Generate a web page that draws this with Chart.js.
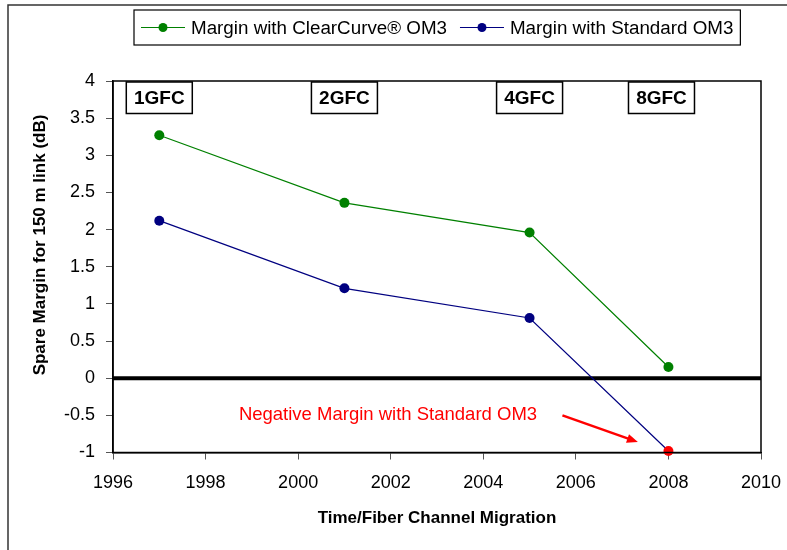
<!DOCTYPE html>
<html>
<head>
<meta charset="utf-8">
<script src="https://cdn.jsdelivr.net/npm/chart.js@4.4.0/dist/chart.umd.min.js"></script>
<style>
  html, body { margin: 0; padding: 0; background: #fff; }
</style>
</head>
<body>
<canvas id="myChart" width="787" height="550"></canvas>
<script>
// data
const years = [1997, 2001, 2005, 2008];
const clearCurve = [3.27, 2.36, 1.96, 0.15];
const standard = [2.12, 1.21, 0.81, -0.98];
const speedLabels = ['1GFC', '2GFC', '4GFC', '8GFC'];
const speedYears = [1997, 2001, 2005, 2007.85];
const xTitle = 'Time/Fiber Channel Migration';
const yTitle = 'Spare Margin for 150 m link (dB)';
const noteText = 'Negative Margin with Standard OM3';

const FONT = "'Liberation Sans', Arial, sans-serif";

// frame, boxes, zero line, legend and note
const extras = {
    id: 'extras',
    beforeDatasetsDraw(chart) {
        const {ctx, chartArea: a, scales: {y}} = chart;
        ctx.save();
        ctx.strokeStyle = '#000';
        ctx.lineWidth = 4;
        ctx.beginPath();
        ctx.moveTo(a.left, y.getPixelForValue(0));
        ctx.lineTo(a.right, y.getPixelForValue(0));
        ctx.stroke();
        ctx.restore();
    },
    afterDraw(chart) {
        const {ctx, chartArea: a, scales: {x, y}} = chart;
        ctx.save();

        // outer frame
        ctx.strokeStyle = '#333';
        ctx.lineWidth = 1.5;
        ctx.beginPath();
        ctx.moveTo(8, 560);
        ctx.lineTo(8, 5);
        ctx.lineTo(800, 5);
        ctx.stroke();

        // plot border
        ctx.strokeStyle = '#000';
        ctx.lineWidth = 1.5;
        ctx.strokeRect(a.left, a.top, a.right - a.left, a.bottom - a.top);

        // speed boxes
        ctx.font = 'bold 19px ' + FONT;
        ctx.textAlign = 'center';
        ctx.textBaseline = 'middle';
        speedLabels.forEach((t, i) => {
            const cx = x.getPixelForValue(speedYears[i]);
            ctx.fillStyle = '#fff';
            ctx.fillRect(cx - 33, a.top + 1, 66, 31.5);
            ctx.strokeStyle = '#000';
            ctx.lineWidth = 1.5;
            ctx.strokeRect(cx - 33, a.top + 1, 66, 31.5);
            ctx.fillStyle = '#000';
            ctx.fillText(t, cx, a.top + 17.5);
        });

        // y title
        ctx.save();
        ctx.translate(40, 245);
        ctx.rotate(-Math.PI / 2);
        ctx.font = 'bold 17px ' + FONT;
        ctx.fillText(yTitle, 0, 0);
        ctx.restore();

        // note and arrow
        ctx.fillStyle = '#ff0000';
        ctx.font = '18.5px ' + FONT;
        ctx.textAlign = 'left';
        ctx.fillText(noteText, x.getPixelForValue(1998.72), y.getPixelForValue(-0.5));
        const x1 = x.getPixelForValue(2005.71), y1 = y.getPixelForValue(-0.5);
        const x2 = x.getPixelForValue(2007.34), y2 = y.getPixelForValue(-0.86);
        const ang = Math.atan2(y2 - y1, x2 - x1);
        ctx.strokeStyle = '#ff0000';
        ctx.lineWidth = 2.5;
        ctx.beginPath();
        ctx.moveTo(x1, y1);
        ctx.lineTo(x2 - 8 * Math.cos(ang), y2 - 8 * Math.sin(ang));
        ctx.stroke();
        ctx.beginPath();
        ctx.moveTo(x2, y2);
        ctx.lineTo(x2 - 11 * Math.cos(ang) + 4.5 * Math.sin(ang), y2 - 11 * Math.sin(ang) - 4.5 * Math.cos(ang));
        ctx.lineTo(x2 - 11 * Math.cos(ang) - 4.5 * Math.sin(ang), y2 - 11 * Math.sin(ang) + 4.5 * Math.cos(ang));
        ctx.closePath();
        ctx.fill();

        // legend
        ctx.font = '18.8px ' + FONT;
        ctx.textBaseline = 'middle';
        const ds = chart.data.datasets;
        const lineW = 44, gap = 6, sep = 13, pad = 7;
        const widths = ds.map(d => ctx.measureText(d.label).width);
        let total = pad * 2 + sep * (ds.length - 1);
        widths.forEach(w => total += lineW + gap + w);
        let lx = 134;
        const ly = 27.5;
        ctx.fillStyle = '#fff';
        ctx.fillRect(lx, 10, total, 35);
        ctx.strokeStyle = '#000';
        ctx.lineWidth = 1.2;
        ctx.strokeRect(lx, 10, total, 35);
        lx += pad;
        ds.forEach((d, i) => {
            ctx.strokeStyle = d.borderColor;
            ctx.lineWidth = 1.2;
            ctx.beginPath();
            ctx.moveTo(lx, ly);
            ctx.lineTo(lx + lineW, ly);
            ctx.stroke();
            ctx.fillStyle = d.borderColor;
            ctx.beginPath();
            ctx.arc(lx + lineW / 2, ly, 4.5, 0, Math.PI * 2);
            ctx.fill();
            ctx.fillStyle = '#000';
            ctx.fillText(d.label, lx + lineW + gap, ly + 1);
            lx += lineW + gap + widths[i] + sep;
        });

        ctx.restore();
    }
};

const ctx = document.getElementById('myChart').getContext('2d');
const chart = new Chart(ctx, {
    type: 'line',
    data: {
        datasets: [{
            label: 'Margin with ClearCurve® OM3',
            data: years.map((yr, i) => ({x: yr, y: clearCurve[i]})),
            borderColor: '#008000',
            backgroundColor: '#008000',
            borderWidth: 1.2,
            pointRadius: 5,
            pointBorderWidth: 0,
            pointBackgroundColor: '#008000',
            clip: false,
            fill: false
        }, {
            label: 'Margin with Standard OM3',
            data: years.map((yr, i) => ({x: yr, y: standard[i]})),
            borderColor: '#000080',
            backgroundColor: '#000080',
            borderWidth: 1.2,
            pointRadius: 5,
            pointBorderWidth: 0,
            pointBackgroundColor: standard.map(v => v < 0 ? '#ff0000' : '#000080'),
            clip: false,
            fill: false
        }]
    },
    plugins: [extras],
    options: {
        responsive: false,
        animation: false,
        layout: { padding: { top: 81, left: 20, right: 26, bottom: 0 } },
        plugins: {
            legend: { display: false },
            tooltip: { enabled: false }
        },
        scales: {
            x: {
                type: 'linear',
                min: 1996,
                max: 2010,
                afterFit: s => { s.height = 97.5; s.paddingLeft = 0; s.paddingRight = 0; },
                border: { display: true, color: '#000', width: 1.5 },
                grid: { drawOnChartArea: false, drawTicks: true, tickLength: 7, color: '#555' },
                ticks: {
                    stepSize: 2,
                    padding: 13,
                    color: '#000',
                    font: { family: FONT, size: 18 },
                    callback: v => String(v)
                },
                title: {
                    display: true,
                    text: xTitle,
                    color: '#000',
                    font: { family: FONT, size: 17, weight: 'bold' },
                    padding: { top: 0, bottom: 21 }
                }
            },
            y: {
                min: -1,
                max: 4,
                afterFit: s => { s.width = 93; },
                border: { display: true, color: '#000', width: 1.5 },
                grid: { drawOnChartArea: false, drawTicks: true, tickLength: 7, color: '#555' },
                ticks: {
                    stepSize: 0.5,
                    padding: 11,
                    color: '#000',
                    font: { family: FONT, size: 18 },
                    callback: v => String(v)
                }
            }
        }
    }
});
</script>
</body>
</html>
